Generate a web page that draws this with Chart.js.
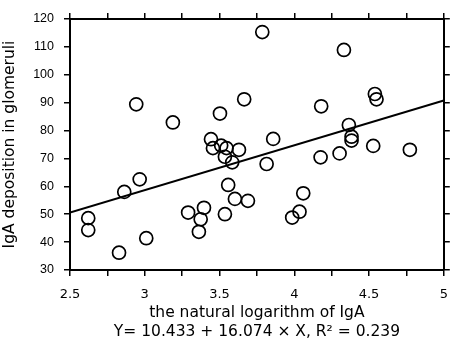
<!DOCTYPE html>
<html>
<head>
<meta charset="utf-8">
<script src="https://cdn.jsdelivr.net/npm/chart.js@4"></script>
<style>
  body { margin: 0; background: #fff; }
  #wrap { width: 452px; height: 349px; }
</style>
</head>
<body>
<div id="wrap"><canvas id="scatterCanvas"></canvas></div>
<script>
// ln(IgA) and glomerular IgA deposition
var lnIgA = [2.943, 3.188, 3.503, 3.665, 3.786, 3.443, 4.332, 4.539, 4.55, 4.18,
             4.365, 3.859, 4.383, 4.383, 3.456, 3.511, 3.547, 3.63, 3.536, 3.585,
             2.966, 2.863, 3.558, 3.603, 3.69, 2.622, 2.622, 3.29, 3.396, 3.374,
             3.362, 3.536, 3.01, 2.828, 3.815, 4.528, 4.773, 4.176, 4.303, 4.06,
             4.035, 3.986];
var deposition = [89.4, 82.9, 86.1, 91.2, 115.3, 76.9, 108.9, 93.1, 91.2, 88.7,
                  82.0, 77.0, 77.8, 76.4, 73.7, 74.6, 73.7, 73.1, 70.6, 68.6,
                  62.5, 58.0, 60.5, 55.5, 54.8, 48.6, 44.3, 50.6, 52.3, 48.2,
                  43.7, 50.0, 41.4, 36.2, 68.0, 74.5, 73.1, 70.4, 71.8, 57.5,
                  50.9, 48.8];

// fitted line Y = a + b*X
var intercept = 10.433;
var slope = 16.074;
var xRange = [2.5, 5];

var points = [];
for (var i = 0; i < lnIgA.length; i++) {
    points.push({x: lnIgA[i], y: deposition[i]});
}
var fitLine = xRange.map(function (x) { return {x: x, y: intercept + slope * x}; });

Chart.defaults.font.family = '"Liberation Sans", Arial, sans-serif';
Chart.defaults.color = '#000';

var axisGrid = {
    display: true,
    drawOnChartArea: false,
    drawTicks: true,
    tickLength: 6,
    color: '#000',
    lineWidth: 1.5
};
var axisBorder = {display: true, color: '#000', width: 2};
var titleFont = {family: '"DejaVu Sans", sans-serif', size: 15.5, lineHeight: 1.25};

var ctx = document.getElementById('scatterCanvas').getContext('2d');
window.myScatter = new Chart(ctx, {
    type: 'scatter',
    data: {
        datasets: [{
            data: points,
            pointStyle: 'circle',
            pointRadius: 6.5,
            pointHoverRadius: 6.5,
            borderColor: '#000',
            borderWidth: 1.7,
            backgroundColor: 'rgba(0,0,0,0)'
        }, {
            data: fitLine,
            showLine: true,
            pointRadius: 0,
            borderColor: '#000',
            borderWidth: 2
        }]
    },
    options: {
        responsive: true,
        maintainAspectRatio: false,
        animation: false,
        layout: {padding: 0},
        plugins: {
            legend: {display: false},
            tooltip: {enabled: false}
        },
        scales: {
            x: {
                type: 'linear',
                position: 'bottom',
                min: 2.5,
                max: 5,
                grid: axisGrid,
                border: axisBorder,
                afterFit: function (scale) {
                    scale.height = 79;
                    scale.paddingLeft = 0;
                    scale.paddingRight = 0;
                },
                ticks: {
                    stepSize: 0.25,
                    autoSkip: false,
                    maxRotation: 0,
                    font: {family: '"DejaVu Sans", sans-serif', size: 13},
                    padding: 11,
                    callback: function (v) {
                        return Math.abs(v * 2 - Math.round(v * 2)) < 1e-6 ? String(v) : '';
                    }
                },
                title: {
                    display: true,
                    text: ['the natural logarithm of IgA', 'Y= 10.433 + 16.074 \u00d7 X, R\u00b2 = 0.239'],
                    font: titleFont,
                    padding: {top: 0, bottom: 7}
                }
            },
            x2: {
                type: 'linear',
                position: 'top',
                min: 2.5,
                max: 5,
                grid: axisGrid,
                border: axisBorder,
                afterFit: function (scale) {
                    scale.height = 19;
                    scale.paddingLeft = 0;
                    scale.paddingRight = 0;
                },
                ticks: {stepSize: 0.25, display: false}
            },
            y: {
                type: 'linear',
                position: 'left',
                min: 30,
                max: 120,
                grid: axisGrid,
                border: axisBorder,
                afterFit: function (scale) { scale.width = 70; },
                ticks: {stepSize: 10, font: {size: 12.5}, padding: 10},
                title: {
                    display: true,
                    text: 'IgA deposition in glomeruli',
                    font: titleFont,
                    padding: {top: 0, bottom: 0}
                }
            },
            y2: {
                type: 'linear',
                position: 'right',
                min: 30,
                max: 120,
                grid: axisGrid,
                border: axisBorder,
                afterFit: function (scale) {
                    scale.width = 6;
                    scale.paddingTop = 0;
                    scale.paddingBottom = 0;
                },
                ticks: {stepSize: 10, display: false}
            }
        }
    }
});
</script>
</body>
</html>
